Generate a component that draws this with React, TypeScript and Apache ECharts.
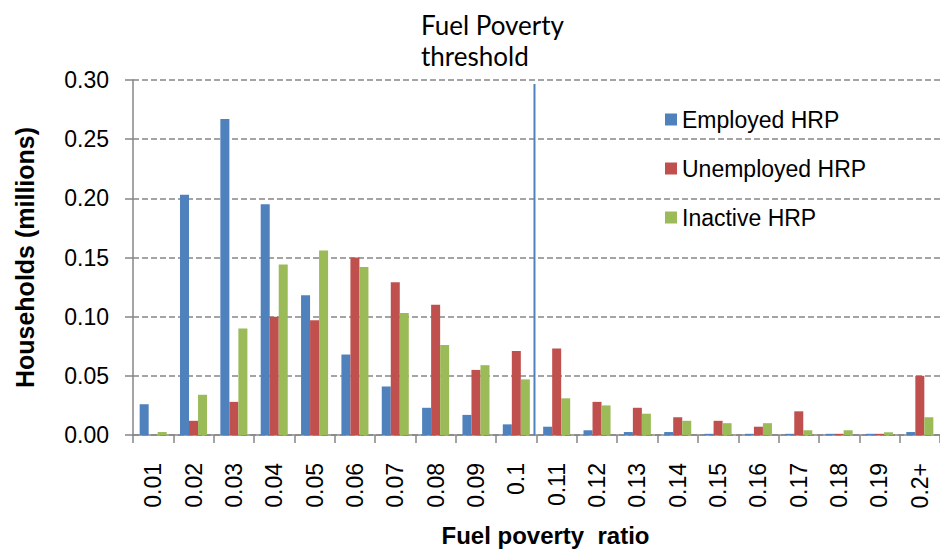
import React, { useEffect, useRef } from "react";
import * as echarts from "echarts";

const categories = ["0.01","0.02","0.03","0.04","0.05","0.06","0.07","0.08","0.09","0.1","0.11","0.12","0.13","0.14","0.15","0.16","0.17","0.18","0.19","0.2+"];
const employed = [0.026,0.203,0.267,0.195,0.118,0.068,0.041,0.023,0.017,0.009,0.007,0.004,0.0025,0.0025,0.001,0.001,0.001,0.001,0.001,0.0025];
const unemployed = [0,0.012,0.028,0.100,0.097,0.150,0.129,0.110,0.055,0.071,0.073,0.028,0.023,0.015,0.012,0.007,0.020,0.001,0.001,0.050];
const inactive = [0.0025,0.034,0.090,0.144,0.156,0.142,0.103,0.076,0.059,0.047,0.031,0.025,0.018,0.012,0.010,0.010,0.004,0.004,0.0023,0.015];
const thresholdPos = 9.95;
const thresholdTop = 0.2967;

const FONT = "'Liberation Sans', Arial, sans-serif";

export default function App() {
  const ref = useRef<HTMLDivElement>(null);
  useEffect(() => {
    document.body.style.margin = "0";
    const chart = echarts.init(ref.current!, null, { renderer: "svg" });
    const barBase = { type: "bar" as const, barGap: "0%", barCategoryGap: "33%" };
    chart.setOption({
      animation: false,
      textStyle: { fontFamily: FONT },
      grid: { left: 133, top: 80, width: 813, height: 359, containLabel: false },
      legend: {
        orient: "vertical",
        left: 660,
        top: 103,
        itemWidth: 12,
        itemHeight: 12,
        itemGap: 26,
        itemStyle: { borderWidth: 0 },
        icon: "rect",
        textStyle: { fontSize: 23, color: "#000", fontFamily: FONT, padding: [0, 0, 0, 0] },
        data: ["Employed HRP", "Unemployed HRP", "Inactive HRP"],
      },
      xAxis: [
        {
          type: "category",
          data: categories,
          name: "Fuel poverty  ratio",
          nameLocation: "middle",
          nameGap: 88,
          nameTextStyle: { fontSize: 24, fontWeight: "bold", color: "#000", fontFamily: FONT, padding: [0, 0, 0, 18] },
          axisLine: { lineStyle: { color: "#868686", width: 1.5 } },
          axisTick: { show: true, alignWithLabel: false, length: 8, lineStyle: { color: "#868686", width: 1.5 } },
          axisLabel: { rotate: 90, fontSize: 23, color: "#000", margin: 28, interval: 0, fontFamily: FONT },
        },
        { type: "value", min: 0, max: 20, show: false },
      ],
      yAxis: {
        type: "value",
        min: 0,
        max: 0.3,
        interval: 0.05,
        name: "Households (millions)",
        nameLocation: "middle",
        nameRotate: 90,
        nameGap: 96,
        nameTextStyle: { fontSize: 25, fontWeight: "bold", color: "#000", fontFamily: FONT },
        axisLine: { show: true, lineStyle: { color: "#868686", width: 1.5 } },
        axisTick: { show: true, length: 8, lineStyle: { color: "#868686", width: 1.5 } },
        axisLabel: { fontSize: 23, color: "#000", margin: 24, fontFamily: FONT, formatter: (v: number) => v.toFixed(2) },
        splitLine: { show: true, lineStyle: { color: "#868686", type: [6, 3], width: 1.5 } },
      },
      series: [
        { ...barBase, name: "Employed HRP", data: employed, itemStyle: { color: "#4F81BD" } },
        { ...barBase, name: "Unemployed HRP", data: unemployed, itemStyle: { color: "#C0504D" } },
        { ...barBase, name: "Inactive HRP", data: inactive, itemStyle: { color: "#9BBB59" } },
        {
          type: "line",
          xAxisIndex: 1,
          data: [[thresholdPos, 0], [thresholdPos, thresholdTop]],
          symbol: "none",
          lineStyle: { color: "#4F81BD", width: 2 },
          silent: true,
          z: 5,
        },
      ],
      graphic: [
        {
          type: "text",
          left: 421,
          top: 9,
          style: {
            text: "Fuel Poverty\nthreshold",
            fontSize: 26,
            lineHeight: 31,
            fontFamily: "Lato, 'Open Sans', sans-serif",
            fill: "#000",
          },
        },
      ],
    });
    return () => chart.dispose();
  }, []);
  return <div ref={ref} style={{ width: 940, height: 552 }} />;
}
